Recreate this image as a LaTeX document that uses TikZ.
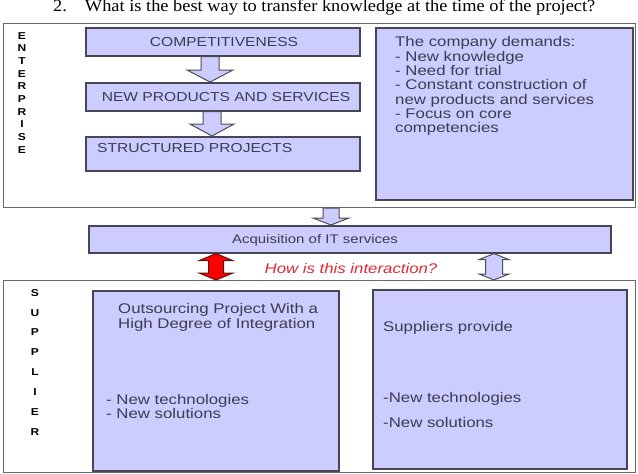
\documentclass[tikz,border=0pt]{standalone}
\usepackage{fontspec}
\setmainfont{Liberation Serif}
\newfontfamily\arl[FakeStretch=1.2]{Liberation Sans}
\newfontfamily\titlefont[FakeStretch=1.08]{Liberation Serif}
\usetikzlibrary{calc}
\definecolor{boxfill}{RGB}{204,204,255}
\definecolor{boxline}{RGB}{70,70,85}
\definecolor{outline}{RGB}{105,105,105}
\definecolor{txtcol}{RGB}{60,60,80}
\definecolor{arrline}{RGB}{75,75,85}
\definecolor{qred}{RGB}{225,40,50}
\newcommand\blkdown[7]{\draw[#1] let \p1=(#2,0 |- #3), \p2=(#2,0 |- #4) in
  (\x1-#5pt,\y1) -- (\x1+#5pt,\y1) -- (\x1+#5pt,\y2+#7pt) -- (\x1+#6pt,\y2+#7pt)
  -- (\x1,\y2) -- (\x1-#6pt,\y2+#7pt) -- (\x1-#5pt,\y2+#7pt) -- cycle;}
\newcommand\blkdouble[7]{\draw[#1] let \p1=(#2,0 |- #3), \p2=(#2,0 |- #4) in
  (\x1,\y1) -- (\x1+#6pt,\y1-#7pt) -- (\x1+#5pt,\y1-#7pt) -- (\x1+#5pt,\y2+#7pt)
  -- (\x1+#6pt,\y2+#7pt) -- (\x1,\y2) -- (\x1-#6pt,\y2+#7pt) -- (\x1-#5pt,\y2+#7pt)
  -- (\x1-#5pt,\y1-#7pt) -- (\x1-#6pt,\y1-#7pt) -- cycle;}
\begin{document}
\begin{tikzpicture}[x=1pt,y=-1pt,
  outerbox/.style={draw=outline, line width=1.2pt, anchor=north west, inner sep=0},
  box/.style={draw=boxline, fill=boxfill, line width=1.6pt, anchor=north west, inner sep=0},
  txt/.style={text=txtcol, inner sep=0, font=\arl\fontsize{14}{14.3}\selectfont, align=left},
  caps/.style={text=txtcol, inner sep=0, font=\arl\fontsize{13}{15}\selectfont},
  vlet/.style={inner sep=0, align=center, font=\arl\bfseries},
  blk/.style={draw=arrline, fill=boxfill, line width=1pt, line join=miter},
  redblk/.style={draw={rgb,255:red,90;green,20;blue,20}, fill=red, line width=1pt}]
\useasboundingbox (0,0) rectangle (638,474);
% title
\node[anchor=base west, inner sep=0, font=\titlefont\fontsize{17}{19}\selectfont] (title) at (53,11)
  {2.\hspace{18pt}What is the best way to transfer knowledge at the time of the project?};
% enterprise
\node[outerbox, minimum width=632pt, minimum height=184pt] (ent) at (3,23) {};
\node[vlet, font=\arl\bfseries\fontsize{10}{12.7}\selectfont, anchor=north] (entl) at (22,32)
  {E\\N\\T\\E\\R\\P\\R\\I\\S\\E};
\node[box, minimum width=274pt, minimum height=28pt] (comp) at (85,27) {};
\node[caps, anchor=base] (compt) at (224,46) {COMPETITIVENESS};
\node[box, minimum width=274pt, minimum height=28pt] (newp) at (85,82) {};
\node[caps, anchor=base] (newpt) at (226,101) {NEW PRODUCTS AND SERVICES};
\node[box, minimum width=274pt, minimum height=34pt] (struct) at (85,136) {};
\node[caps, anchor=base west] (structt) at (97,152) {STRUCTURED PROJECTS};
\node[box, minimum width=257pt, minimum height=172pt] (dem) at (375,27) {};
\node[txt, anchor=north west] (demt) at (395,36.5)
  {The company demands:\\- New knowledge\\- Need for trial\\- Constant construction of\\new products and services\\- Focus on core\\competencies};
\blkdown{blk}{210}{comp.south}{newp.north}{9}{23}{12}
\blkdown{blk}{212}{newp.south}{struct.north}{9}{22}{12}
% acquisition
\node[box, minimum width=522pt, minimum height=27pt] (acq) at (88,225) {};
\node[txt, font=\arl\fontsize{12.5}{14}\selectfont, anchor=base] (acqt) at (315,243) {Acquisition of IT services};
\blkdown{blk}{331}{ent.south}{acq.north}{8}{18}{7}
% supplier
\node[outerbox, minimum width=632pt, minimum height=192pt] (sup) at (3,280) {};
\node[vlet, font=\arl\bfseries\fontsize{10}{19.9}\selectfont, anchor=north] (supl) at (35,289)
  {S\\U\\P\\P\\L\\I\\E\\R};
\node[box, minimum width=246pt, minimum height=180pt] (outs) at (92,290) {};
\node[txt, anchor=base west] (outst1) at (118,313) {Outsourcing Project With a};
\node[txt, anchor=base west] (outst2) at (118,328) {High Degree of Integration};
\node[txt, anchor=north west] (outst3) at (106,394) {- New technologies\\- New solutions};
\node[box, minimum width=254pt, minimum height=179pt] (supp) at (372,289) {};
\node[txt, anchor=base west] (suppt1) at (383,331) {Suppliers provide};
\node[txt, anchor=base west] (suppt2) at (383,402) {-New technologies};
\node[txt, anchor=base west] (suppt3) at (383,427) {-New solutions};
% interaction
\blkdouble{redblk}{216}{acq.south}{sup.north}{7.5}{17}{7}
\blkdouble{blk}{494}{acq.south}{sup.north}{8.5}{15}{6}
\node[inner sep=0, text=qred, font=\arl\itshape\fontsize{14}{16}\selectfont, anchor=base] (q) at (351,273) {How is this interaction?};
\end{tikzpicture}
\end{document}
